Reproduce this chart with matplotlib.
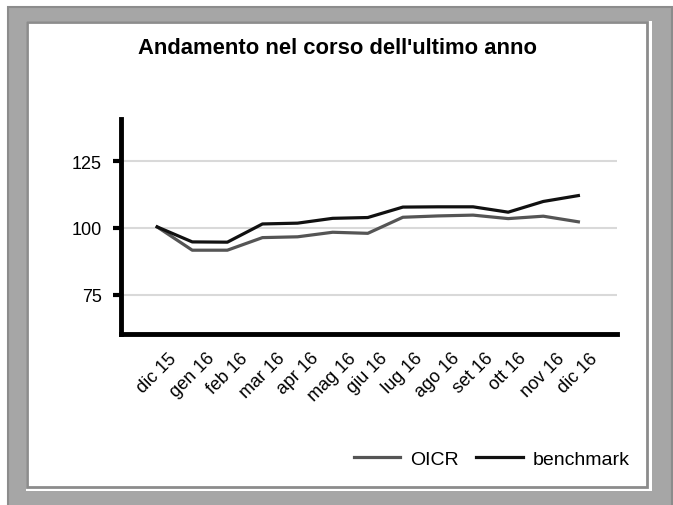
import matplotlib
matplotlib.use("Agg")
import matplotlib.pyplot as plt
from matplotlib.patches import Rectangle

months = ["dic 15", "gen 16", "feb 16", "mar 16", "apr 16", "mag 16", "giu 16",
          "lug 16", "ago 16", "set 16", "ott 16", "nov 16", "dic 16"]
oicr = [100.4, 91.7, 91.7, 96.4, 96.7, 98.4, 98.0, 104.0, 104.5, 104.8, 103.5, 104.4, 102.3]
benchmark = [100.4, 94.8, 94.7, 101.5, 101.8, 103.6, 103.9, 107.8, 107.9, 107.9, 105.9, 109.9, 112.1]
yticks = [75, 100, 125]

plt.rcParams['font.family'] = ['Liberation Sans', 'DejaVu Sans']

W, H = 673, 506
fig = plt.figure(figsize=(W / 100, H / 100), dpi=100)
fig.patch.set_facecolor('white')

def frect(x0, y0, x1, y1, **kw):
    # pixel coords, y from top
    return Rectangle((x0 / W, 1 - y1 / H), (x1 - x0) / W, (y1 - y0) / H,
                     transform=fig.transFigure, zorder=-10, **kw)

fig.patches.append(frect(8, 8, 672, 510, facecolor='#a6a6a6', edgecolor='#8c8c8c', linewidth=1.5))
fig.patches.append(frect(26, 22, 652, 492, facecolor='white', edgecolor='none'))
fig.patches.append(frect(27, 23, 647, 488, facecolor='white', edgecolor='#8c8c8c', linewidth=2))

L, R, B, T = 121, 617, 335, 120
ax = fig.add_axes([L / W, 1 - B / H, (R - L) / W, (B - T) / H])
ax.patch.set_alpha(0)
x = list(range(len(months)))
ax.plot(x, oicr, color='#555555', linewidth=2.3, label='OICR', solid_joinstyle='round')
ax.plot(x, benchmark, color='#111111', linewidth=2.3, label='benchmark', solid_joinstyle='round')

ax.set_xlim(-1.03, 13.1)
ax.set_ylim(60.4, 140.7)
ax.set_yticks(yticks)
ax.set_yticklabels([str(v) for v in yticks], fontsize=13)
ax.set_xticks(x)
ax.set_xticklabels(months, rotation=45, ha='center', va='top', fontsize=13)
ax.tick_params(axis='x', length=0, pad=11)
ax.tick_params(axis='y', length=5.5, width=3, color='black', pad=8.2)
ax.grid(axis='y', color='#d9d9d9', linewidth=1.5)
ax.set_axisbelow(True)
for s in ['top', 'right']:
    ax.spines[s].set_visible(False)
for s in ['left', 'bottom']:
    ax.spines[s].set_linewidth(3.5)
    ax.spines[s].set_color('black')

fig.text(338 / W, 1 - 49 / H, "Andamento nel corso dell'ultimo anno", ha='center', va='center',
         fontsize=15.8, fontweight='bold')

fig.legend(loc='center right', bbox_to_anchor=(647 / W, 1 - 460 / H), ncol=2, frameon=False,
           fontsize=14, handlelength=2.4, columnspacing=0.9, handletextpad=0.5)

fig.savefig('out.png', dpi=100)
